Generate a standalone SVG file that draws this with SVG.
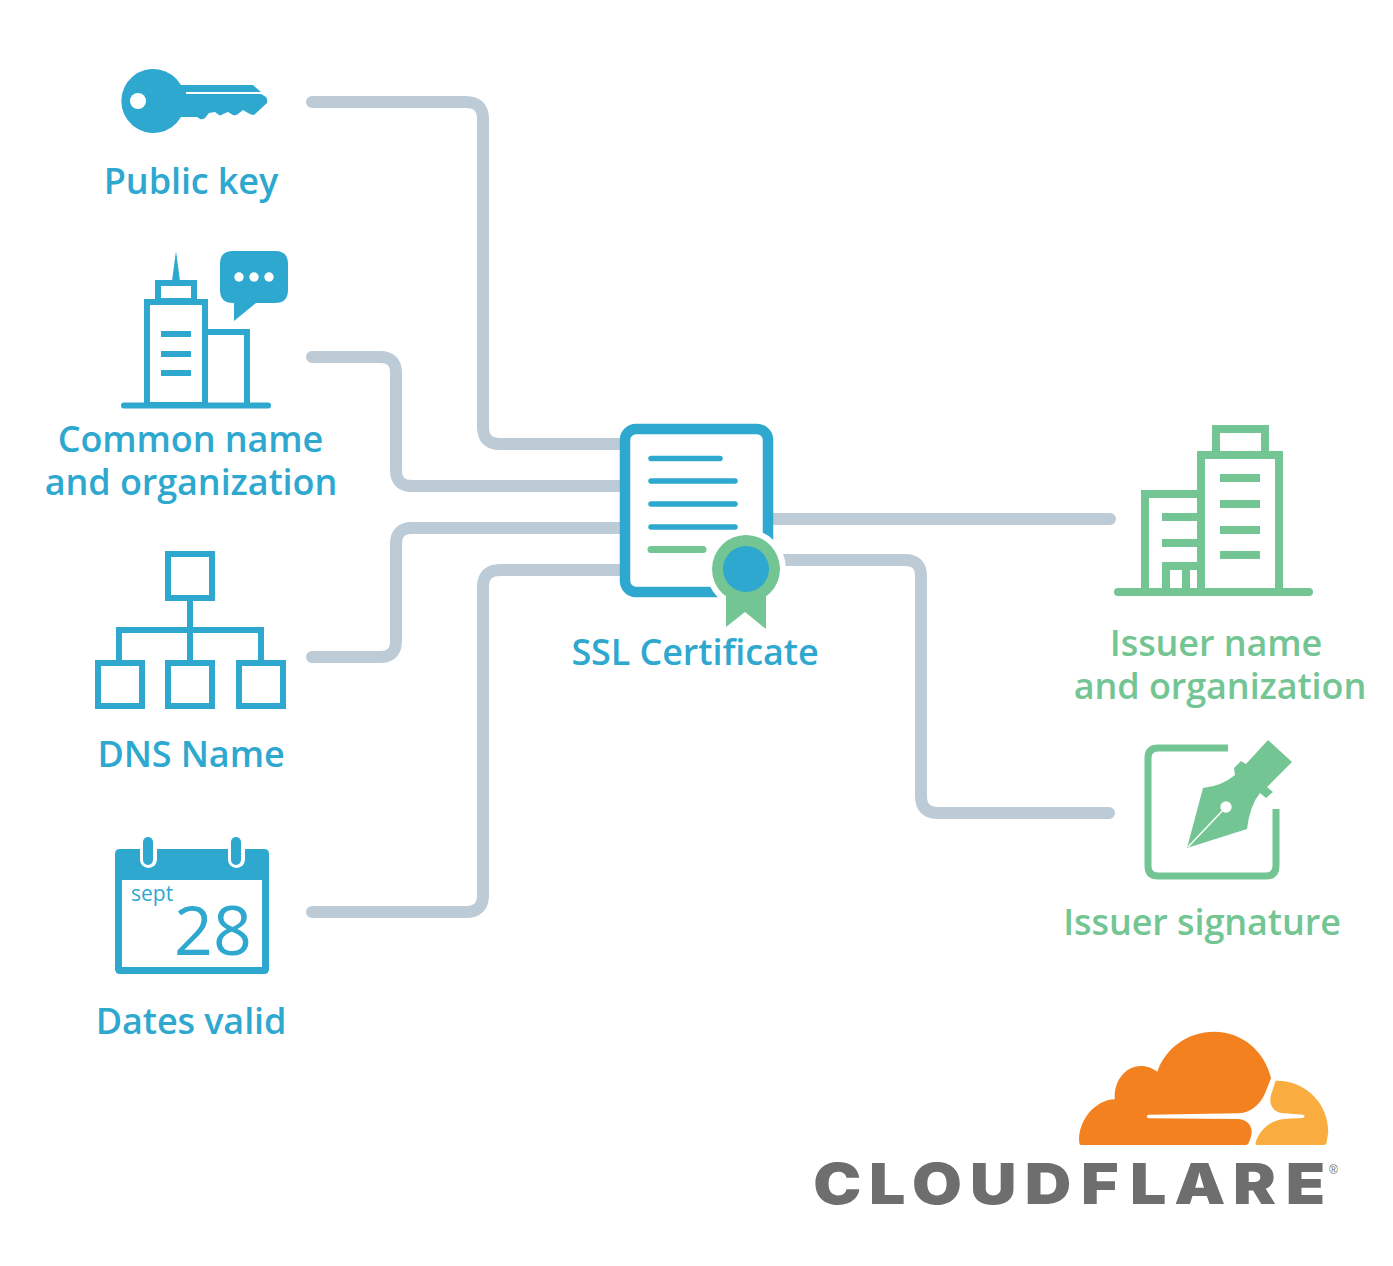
<svg xmlns="http://www.w3.org/2000/svg" width="1393" height="1266" viewBox="0 0 1393 1266">
<style>
.t{font-family:"Open Sans","Noto Sans",sans-serif;font-size:36px;font-weight:600;letter-spacing:-.1px;text-anchor:middle}
.b{fill:#2ea8cf}.g{fill:#73c593}
.bs{fill:none;stroke:#2ea8cf;stroke-width:6}
.gs{fill:none;stroke:#73c593;stroke-width:8}
.c{fill:none;stroke:#bccbd6;stroke-width:12;stroke-linecap:round}
.cl{fill:none;stroke:#2ea8cf;stroke-width:5.5;stroke-linecap:round}
</style>
<rect width="1393" height="1266" fill="#fff"/>
<g id="connectors" class="c">
<path d="M312 102H466Q483 102 483 119V427Q483 444 500 444H630"/>
<path d="M312 357H380Q396 357 396 373V470Q396 486 412 486H630"/>
<path d="M312 657H380Q396 657 396 641V544Q396 528 412 528H630"/>
<path d="M312 912H466Q483 912 483 895V587Q483 570 500 570H630"/>
<path d="M765 519H1110"/>
<path d="M765 560H905Q921 560 921 576V796Q921 813 938 813H1109"/>
</g>
<g id="public-key">
<path class="b" d="M181 85H253L261 92H186V94H261L266 97Q268 100 267 103L254 115Q251 115 248 113L243 110L238 114Q235 116 233 115L228 112L223 114Q221 116 219 115L215 112L209 113L205 118Q202 120 200 119L197 117H181A32 32 0 1 1 181 85Z"/>
<circle cx="138" cy="101" r="8" fill="#fff"/>
<text class="t b" x="191" y="194">Public key</text>
</g>
<g id="common-name">
<path class="b" d="M176 251L172 281H180Z"/>
<rect class="bs" x="158" y="283" width="36" height="18"/>
<rect class="bs" x="147" y="302" width="58" height="103"/>
<path class="bs" d="M208 332H247V405"/>
<path class="bs" d="M161 334H191M161 354H191M161 373H191"/>
<path class="bs" d="M124 405.500H268" stroke-linecap="round"/>
<path class="b" d="M233 251H275Q288 251 288 264V290Q288 303 275 303H256L234 321V303H233Q220 303 220 290V264Q220 251 233 251Z"/>
<circle cx="239" cy="277" r="4.700" fill="#fff"/><circle cx="254" cy="277" r="4.700" fill="#fff"/><circle cx="269" cy="277" r="4.700" fill="#fff"/>
<text class="t b" x="190.500" y="452">Common name</text>
<text class="t b" x="191" y="495">and organization</text>
</g>
<g id="dns-name">
<rect class="bs" x="168" y="554" width="44" height="44"/>
<rect class="bs" x="98" y="663" width="44" height="43"/>
<rect class="bs" x="168" y="663" width="44" height="43"/>
<rect class="bs" x="239" y="663" width="44" height="43"/>
<path class="bs" d="M190 598V663M119 663V630H261V663"/>
<text class="t b" x="191" y="767">DNS Name</text>
</g>
<g id="dates-valid">
<path class="b" d="M120 849H264Q269 849 269 854V969Q269 974 264 974H120Q115 974 115 969V854Q115 849 120 849Z"/>
<rect x="122" y="880" width="140" height="87" fill="#fff"/>
<rect x="140" y="834" width="17" height="34" rx="8.500" fill="#fff"/>
<rect x="228" y="834" width="17" height="34" rx="8.500" fill="#fff"/>
<rect class="b" x="143" y="837" width="10" height="28" rx="5"/>
<rect class="b" x="231" y="837" width="10" height="28" rx="5"/>
<text x="131" y="901" font-family="Open Sans" font-size="21" class="b">sept</text>
<text x="174" y="955" font-family="Open Sans" font-size="68" class="b">28</text>
<text class="t b" x="191" y="1034">Dates valid</text>
</g>
<g id="ssl-certificate">
<rect x="625" y="429" width="143" height="163" rx="11" fill="#fff" stroke="#2ea8cf" stroke-width="10.500"/>
<path class="cl" d="M651 458.500H720M651 481H735M651 504H735M651 527H735"/>
<path d="M651 549.500H703" fill="none" stroke="#73c593" stroke-width="7" stroke-linecap="round"/>
<circle cx="746" cy="569" r="40" fill="#fff"/>
<path class="g" d="M726 590H766V629L745 612L726 627Z"/>
<circle class="g" cx="746" cy="569" r="34"/>
<circle class="b" cx="746" cy="569" r="23"/>
<text class="t b" x="695" y="665">SSL Certificate</text>
</g>
<g id="issuer-name">
<rect class="gs" x="1216" y="429" width="49" height="26"/>
<rect class="gs" x="1201" y="455" width="78" height="137"/>
<path class="gs" d="M1145 592V494H1201"/>
<path class="gs" d="M1220 478H1260M1220 504H1260M1220 530H1260M1220 555H1260M1162 517H1197M1162 543H1197"/>
<path class="gs" d="M1166 592V566H1197M1186 566V592"/>
<path class="gs" d="M1118 592H1309" stroke-linecap="round"/>
<text class="t g" x="1216" y="656">Issuer name</text>
<text class="t g" x="1220" y="699">and organization</text>
</g>
<g id="issuer-signature">
<path fill="none" stroke="#73c593" stroke-width="7" d="M1228 748H1158Q1148 748 1148 758V866Q1148 876 1158 876H1266Q1276 876 1276 866V809"/>
<path class="g" d="M1187 848L1203 788Q1222 786 1235 775L1234 768L1241 761L1246 764L1268 740L1292 762L1267 787L1273 792L1266 798L1260 793Q1250 805 1247 829Z"/>
<path d="M1188 847L1226 807" stroke="#fff" stroke-width="1.500"/>
<circle cx="1226" cy="807" r="5.700" fill="#fff"/>
<text class="t g" x="1202" y="935">Issuer signature</text>
</g>
<g id="cloudflare-logo">
<g transform="translate(800 1020) scale(.351 .3333)">
<path fill="#f48120" d="M800 375Q795 373 795 360C795 300 840 240 897 238C893 180 930 138 970 138C990 138 1005 145 1018 155C1040 85 1105 35 1180 35C1260 35 1325 95 1342 175L1325 220C1310 255 1285 278 1250 280L992 284Q984 290 992 295L1250 297C1280 300 1292 325 1285 350L1278 370Q1276 375 1270 375Z"/>
<path fill="#faad3f" d="M1355 182C1440 180 1505 250 1505 335L1500 370Q1498 375 1492 375H1302Q1296 375 1298 368C1310 325 1345 298 1385 296L1432 294Q1442 290 1434 284L1380 280C1345 278 1335 250 1342 225Z"/>
</g>
<text transform="translate(812 0) scale(1.15 1)" x="1 49.600 87 137.400 185 234 276.500 315 366 412" y="1204" font-family="Inter,'Liberation Sans',sans-serif" font-weight="900" font-size="56" fill="#6e6e6e">CLOUDFLARE</text>
<text x="1329" y="1174" font-family="'Liberation Sans',sans-serif" font-size="12" fill="#6e6e6e">®</text>
</g>
</svg>
